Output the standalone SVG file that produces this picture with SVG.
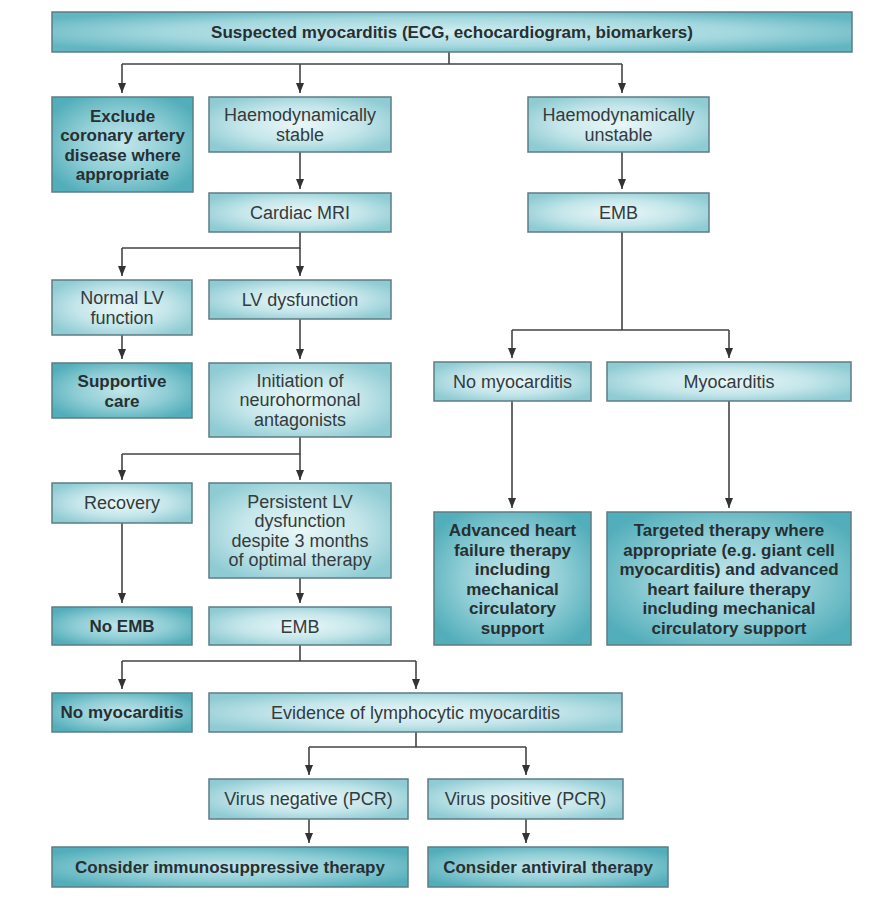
<svg xmlns="http://www.w3.org/2000/svg" width="891" height="905" viewBox="0 0 891 905">
<defs>
<radialGradient id="gLight" cx="0.5" cy="0.5" r="0.6">
<stop offset="0" stop-color="#eaf7f8"/>
<stop offset="0.55" stop-color="#c4e6ea"/>
<stop offset="1" stop-color="#8ecbd3"/>
</radialGradient>
<radialGradient id="gDark" cx="0.5" cy="0.5" r="0.6">
<stop offset="0" stop-color="#c2e6ea"/>
<stop offset="0.55" stop-color="#8fcdd5"/>
<stop offset="1" stop-color="#52aeba"/>
</radialGradient>
<radialGradient id="gTop" cx="0.5" cy="0.5" r="0.6">
<stop offset="0" stop-color="#d2eef1"/>
<stop offset="0.6" stop-color="#a3d7de"/>
<stop offset="1" stop-color="#62b6c1"/>
</radialGradient>
<marker id="arr" markerUnits="userSpaceOnUse" markerWidth="10" markerHeight="12" refX="10" refY="4" orient="auto">
<path d="M0,0 L10,4 L0,8 z" fill="#333"/>
</marker>
</defs>
<style>
.light{fill:url(#gLight);stroke:#5e7d84;stroke-width:1.5}
.dark{fill:url(#gDark);stroke:#5e7d84;stroke-width:1.5}
.top{fill:url(#gTop);stroke:#5e7d84;stroke-width:1.5}
text{font-family:"Liberation Sans",Arial,sans-serif;fill:#333b3d;text-anchor:middle}
.r{font-size:18px}
.b{font-size:17px;font-weight:bold;fill:#263033}
.c{fill:none;stroke:#444;stroke-width:1.6}
</style>
<rect width="891" height="905" fill="#ffffff"/>

<g id="connectors">
<path class="c" d="M449,52 V64 M122,64 H622"/>
<path class="c" d="M122,64 V93" marker-end="url(#arr)"/>
<path class="c" d="M300,64 V93" marker-end="url(#arr)"/>
<path class="c" d="M622,64 V93" marker-end="url(#arr)"/>
<path class="c" d="M300,152 V189" marker-end="url(#arr)"/>
<path class="c" d="M622,152 V189" marker-end="url(#arr)"/>
<path class="c" d="M300,232 V248 H122"/>
<path class="c" d="M122,248 V276" marker-end="url(#arr)"/>
<path class="c" d="M300,248 V276" marker-end="url(#arr)"/>
<path class="c" d="M122,335 V359" marker-end="url(#arr)"/>
<path class="c" d="M300,319 V359" marker-end="url(#arr)"/>
<path class="c" d="M300,437 V454 H122"/>
<path class="c" d="M122,454 V480" marker-end="url(#arr)"/>
<path class="c" d="M300,454 V480" marker-end="url(#arr)"/>
<path class="c" d="M122,523 V603" marker-end="url(#arr)"/>
<path class="c" d="M300,578 V603" marker-end="url(#arr)"/>
<path class="c" d="M300,645 V661 M122,661 H416"/>
<path class="c" d="M122,661 V689" marker-end="url(#arr)"/>
<path class="c" d="M416,661 V689" marker-end="url(#arr)"/>
<path class="c" d="M416,732 V747 M309,747 H526"/>
<path class="c" d="M309,747 V775" marker-end="url(#arr)"/>
<path class="c" d="M526,747 V775" marker-end="url(#arr)"/>
<path class="c" d="M309,819 V843" marker-end="url(#arr)"/>
<path class="c" d="M526,819 V843" marker-end="url(#arr)"/>
<path class="c" d="M622,232 V330 M512,330 H729"/>
<path class="c" d="M512,330 V358" marker-end="url(#arr)"/>
<path class="c" d="M729,330 V358" marker-end="url(#arr)"/>
<path class="c" d="M512,401 V508" marker-end="url(#arr)"/>
<path class="c" d="M729,401 V508" marker-end="url(#arr)"/>
</g>

<g id="n-top"><rect class="top" x="52" y="12" width="800" height="40"/>
<text class="b" x="452" y="38">Suspected myocarditis (ECG, echocardiogram, biomarkers)</text></g>

<g id="n-exclude"><rect class="dark" x="52" y="97" width="141" height="95"/>
<text class="b" x="122.5" y="121.5">Exclude<tspan x="122.5" dy="19.5">coronary artery</tspan><tspan x="122.5" dy="19.5">disease where</tspan><tspan x="122.5" dy="19.5">appropriate</tspan></text></g>

<g id="n-stable"><rect class="light" x="209" y="97" width="182" height="55"/>
<text class="r" x="300" y="121">Haemodynamically<tspan x="300" dy="19.5">stable</tspan></text></g>

<g id="n-unstable"><rect class="light" x="528" y="97" width="181" height="55"/>
<text class="r" x="618.5" y="121">Haemodynamically<tspan x="618.5" dy="19.5">unstable</tspan></text></g>

<g id="n-mri"><rect class="light" x="209" y="193" width="182" height="39"/>
<text class="r" x="300" y="218.5">Cardiac MRI</text></g>

<g id="n-emb1"><rect class="light" x="528" y="193" width="181" height="39"/>
<text class="r" x="618.5" y="218.5">EMB</text></g>

<g id="n-normal"><rect class="light" x="52" y="280" width="140" height="55"/>
<text class="r" x="122" y="304">Normal LV<tspan x="122" dy="19.5">function</tspan></text></g>

<g id="n-lvdys"><rect class="light" x="209" y="280" width="182" height="39"/>
<text class="r" x="300" y="305.5">LV dysfunction</text></g>

<g id="n-supportive"><rect class="dark" x="52" y="363" width="140" height="55"/>
<text class="b" x="122" y="387">Supportive<tspan x="122" dy="19.5">care</tspan></text></g>

<g id="n-initiation"><rect class="light" x="209" y="363" width="182" height="74"/>
<text class="r" x="300" y="386.5">Initiation of<tspan x="300" dy="19.5">neurohormonal</tspan><tspan x="300" dy="19.5">antagonists</tspan></text></g>

<g id="n-nomyo1"><rect class="light" x="434" y="362" width="157" height="39"/>
<text class="r" x="512.5" y="387.5">No myocarditis</text></g>

<g id="n-myo"><rect class="light" x="607" y="362" width="244" height="39"/>
<text class="r" x="729" y="387.5">Myocarditis</text></g>

<g id="n-recovery"><rect class="light" x="52" y="483" width="140" height="40"/>
<text class="r" x="122" y="509">Recovery</text></g>

<g id="n-persistent"><rect class="light" x="209" y="483" width="182" height="95"/>
<text class="r" x="300" y="507.5">Persistent LV<tspan x="300" dy="19.5">dysfunction</tspan><tspan x="300" dy="19.5">despite 3 months</tspan><tspan x="300" dy="19.5">of optimal therapy</tspan></text></g>

<g id="n-advanced"><rect class="dark" x="434" y="512" width="157" height="133"/>
<text class="b" x="512.5" y="536">Advanced heart<tspan x="512.5" dy="19.5">failure therapy</tspan><tspan x="512.5" dy="19.5">including</tspan><tspan x="512.5" dy="19.5">mechanical</tspan><tspan x="512.5" dy="19.5">circulatory</tspan><tspan x="512.5" dy="19.5">support</tspan></text></g>

<g id="n-targeted"><rect class="dark" x="607" y="512" width="244" height="133"/>
<text class="b" x="729" y="536">Targeted therapy where<tspan x="729" dy="19.5">appropriate (e.g. giant cell</tspan><tspan x="729" dy="19.5">myocarditis) and advanced</tspan><tspan x="729" dy="19.5">heart failure therapy</tspan><tspan x="729" dy="19.5">including mechanical</tspan><tspan x="729" dy="19.5">circulatory support</tspan></text></g>

<g id="n-noemb"><rect class="dark" x="52" y="607" width="140" height="38"/>
<text class="b" x="122" y="632">No EMB</text></g>

<g id="n-emb2"><rect class="light" x="209" y="607" width="182" height="38"/>
<text class="r" x="300" y="632.5">EMB</text></g>

<g id="n-nomyo2"><rect class="dark" x="52" y="693" width="140" height="39"/>
<text class="b" x="122" y="718">No myocarditis</text></g>

<g id="n-evidence"><rect class="light" x="209" y="693" width="413" height="39"/>
<text class="r" x="415.5" y="718.5">Evidence of lymphocytic myocarditis</text></g>

<g id="n-virusneg"><rect class="light" x="209" y="779" width="199" height="40"/>
<text class="r" x="308.5" y="805">Virus negative (PCR)</text></g>

<g id="n-viruspos"><rect class="light" x="428" y="779" width="195" height="40"/>
<text class="r" x="525.5" y="805">Virus positive (PCR)</text></g>

<g id="n-immuno"><rect class="dark" x="52" y="847" width="356" height="40"/>
<text class="b" x="230" y="873">Consider immunosuppressive therapy</text></g>

<g id="n-antiviral"><rect class="dark" x="428" y="847" width="240" height="40"/>
<text class="b" x="548" y="873">Consider antiviral therapy</text></g>
</svg>
